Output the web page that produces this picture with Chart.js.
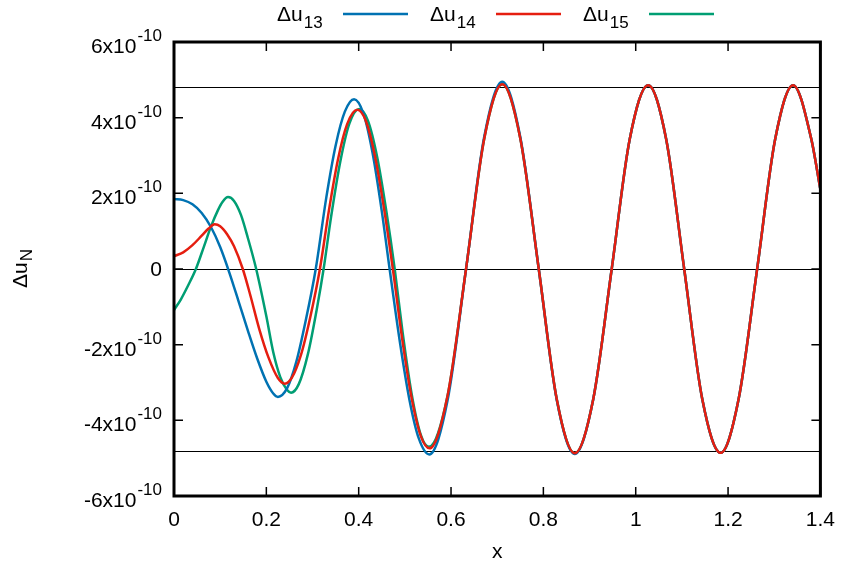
<!DOCTYPE html>
<html>
<head>
<meta charset="utf-8">
<script src="https://cdn.jsdelivr.net/npm/chart.js@4.4.0/dist/chart.umd.min.js"></script>
<style>
    html, body { margin: 0; padding: 0; background: #fff; }
</style>
</head>
<body>
<canvas id="chart" width="847" height="567"></canvas>
<script>
// values, u in units of 1e-10
const x13 = [0, 0.02, 0.04, 0.06, 0.08, 0.10, 0.12, 0.14, 0.16, 0.18, 0.20, 0.215, 0.225, 0.245, 0.265, 0.285, 0.307, 0.33, 0.35, 0.37, 0.39, 0.41, 0.43, 0.45, 0.467, 0.49, 0.51, 0.53, 0.553, 0.5925, 0.6325, 0.672, 0.711, 0.75, 0.79, 0.829, 0.868, 0.908, 0.948, 0.987, 1.027, 1.066, 1.105, 1.144, 1.184, 1.223, 1.263, 1.302, 1.341, 1.38, 1.40];
const u13 = [1.85, 1.82, 1.71, 1.48, 1.11, 0.58, -0.10, -0.86, -1.63, -2.36, -2.98, -3.29, -3.38, -3.15, -2.45, -1.38, 0, 1.9, 3.26, 4.16, 4.49, 4.12, 3.07, 1.53, 0, -1.99, -3.46, -4.47, -4.90, -3.47, 0, 3.50, 4.95, 3.49, 0, -3.46, -4.89, -3.44, 0, 3.43, 4.86, 3.43, 0, -3.43, -4.86, -3.43, 0, 3.43, 4.86, 3.45, 2.1];

const x14 = [0, 0.02, 0.04, 0.06, 0.075, 0.088, 0.10, 0.115, 0.13, 0.149, 0.165, 0.185, 0.205, 0.225, 0.24, 0.255, 0.275, 0.295, 0.316, 0.335, 0.355, 0.375, 0.397, 0.415, 0.435, 0.455, 0.474, 0.495, 0.515, 0.535, 0.5535, 0.5925, 0.6325, 0.672, 0.711, 0.75, 0.79, 0.829, 0.868, 0.908, 0.948, 0.987, 1.027, 1.066, 1.105, 1.144, 1.184, 1.223, 1.263, 1.302, 1.341, 1.38, 1.40];
const u14 = [0.34, 0.44, 0.63, 0.88, 1.07, 1.18, 1.13, 0.92, 0.60, 0, -0.68, -1.6, -2.35, -2.88, -3.03, -2.88, -2.27, -1.28, 0, 1.51, 2.89, 3.83, 4.21, 3.93, 3.0, 1.59, 0, -1.91, -3.43, -4.43, -4.74, -3.35, 0, 3.45, 4.88, 3.45, 0, -3.44, -4.87, -3.44, 0, 3.43, 4.86, 3.43, 0, -3.43, -4.86, -3.43, 0, 3.43, 4.86, 3.45, 2.1];

const x15 = [0, 0.015, 0.03, 0.0474, 0.065, 0.08, 0.095, 0.105, 0.117, 0.13, 0.145, 0.16, 0.178, 0.20, 0.215, 0.23, 0.245, 0.2535, 0.27, 0.29, 0.31, 0.324, 0.34, 0.36, 0.38, 0.401, 0.42, 0.44, 0.46, 0.478, 0.495, 0.515, 0.535, 0.552, 0.5925, 0.6325, 0.672, 0.711, 0.75, 0.79, 0.829, 0.868, 0.908, 0.948, 0.987, 1.027, 1.066, 1.105, 1.144, 1.184, 1.223, 1.263, 1.302, 1.341, 1.38, 1.40];
const u15 = [-1.085, -0.80, -0.45, 0, 0.60, 1.12, 1.55, 1.77, 1.90, 1.80, 1.43, 0.82, 0, -1.25, -2.2, -2.85, -3.2, -3.27, -3.05, -2.25, -1.01, 0, 1.36, 2.83, 3.85, 4.23, 3.92, 2.96, 1.52, 0, -1.66, -3.32, -4.40, -4.70, -3.35, 0, 3.45, 4.88, 3.45, 0, -3.44, -4.87, -3.44, 0, 3.43, 4.86, 3.43, 0, -3.43, -4.86, -3.43, 0, 3.43, 4.86, 3.45, 2.1];

const xTicks = [0, 0.2, 0.4, 0.6, 0.8, 1, 1.2, 1.4];
const yTicks = [-6, -4, -2, 0, 2, 4, 6];
const refLevels = [4.8, 0, -4.8];
const seriesNames = ["13", "14", "15"];
const seriesColors = ["#0072b2", "#e51e10", "#009e73"];

const FONT = "Liberation Sans, Arial, sans-serif";

function toPoints(xs, ys) {
    return xs.map((x, i) => ({ x: x, y: ys[i] }));
}

function makeSet(xs, ys, color) {
    return {
        data: toPoints(xs, ys),
        borderColor: color,
        borderWidth: 2.5,
        pointRadius: 0,
        showLine: true,
        fill: false,
        cubicInterpolationMode: 'monotone'
    };
}

// gnuplot-like decorations: frame, inward ticks, reference lines, labels, legend
const gnuplotLook = {
    id: 'gnuplotLook',
    beforeDatasetsDraw(chart) {
        const { ctx, chartArea: a, scales } = chart;
        ctx.save();
        ctx.strokeStyle = '#000';
        ctx.lineWidth = 1.2;
        refLevels.forEach(v => {
            const py = Math.round(scales.y.getPixelForValue(v)) + 0.5;
            ctx.beginPath();
            ctx.moveTo(a.left, py);
            ctx.lineTo(a.right, py);
            ctx.stroke();
        });
        ctx.restore();
    },
    afterDatasetsDraw(chart) {
        const { ctx, chartArea: a, scales } = chart;
        ctx.save();
        ctx.strokeStyle = '#000';

        // ticks
        ctx.lineWidth = 1.5;
        const tl = 9;
        xTicks.forEach(v => {
            const px = scales.x.getPixelForValue(v);
            ctx.beginPath();
            ctx.moveTo(px, a.bottom); ctx.lineTo(px, a.bottom - tl);
            ctx.moveTo(px, a.top); ctx.lineTo(px, a.top + tl);
            ctx.stroke();
        });
        yTicks.forEach(v => {
            const py = scales.y.getPixelForValue(v);
            ctx.beginPath();
            ctx.moveTo(a.left, py); ctx.lineTo(a.left + tl, py);
            ctx.moveTo(a.right, py); ctx.lineTo(a.right - tl, py);
            ctx.stroke();
        });

        // frame
        ctx.lineWidth = 3;
        ctx.strokeRect(a.left, a.top, a.right - a.left, a.bottom - a.top);

        ctx.fillStyle = '#000';
        ctx.textBaseline = 'alphabetic';

        // y tick labels  Nx10^-10
        const labelRight = a.left - 12;
        yTicks.forEach(v => {
            const py = scales.y.getPixelForValue(v);
            if (v === 0) {
                ctx.font = "21px " + FONT;
                ctx.textAlign = 'right';
                ctx.fillText("0", labelRight, py + 7);
                return;
            }
            ctx.font = "17px " + FONT;
            const sup = "-10";
            const ws = ctx.measureText(sup).width;
            ctx.textAlign = 'left';
            ctx.fillText(sup, labelRight - ws, py - 1);
            ctx.font = "21px " + FONT;
            ctx.textAlign = 'right';
            ctx.fillText(v + "x10", labelRight - ws - 1, py + 11);
        });

        // y title
        ctx.save();
        ctx.translate(27, (a.top + a.bottom) / 2);
        ctx.rotate(-Math.PI / 2);
        ctx.font = "21px " + FONT;
        const wMain = ctx.measureText("\u0394u").width;
        ctx.font = "17px " + FONT;
        const wSub = ctx.measureText("N").width;
        const start = -(wMain + wSub) / 2;
        ctx.textAlign = 'left';
        ctx.font = "21px " + FONT;
        ctx.fillText("\u0394u", start, 0);
        ctx.font = "17px " + FONT;
        ctx.fillText("N", start + wMain + 1, 5);
        ctx.restore();

        // x title
        ctx.font = "21px " + FONT;
        ctx.textAlign = 'center';
        ctx.fillText("x", (a.left + a.right) / 2, 558);

        // legend
        seriesNames.forEach((name, i) => {
            const x0 = 277 + i * 153;
            ctx.textAlign = 'left';
            ctx.font = "21px " + FONT;
            ctx.fillText("\u0394u", x0, 21);
            const w = ctx.measureText("\u0394u").width;
            ctx.font = "17px " + FONT;
            ctx.fillText(name, x0 + w + 1, 28);
            ctx.strokeStyle = seriesColors[i];
            ctx.lineWidth = 2.5;
            ctx.beginPath();
            ctx.moveTo(x0 + 66, 14);
            ctx.lineTo(x0 + 131, 14);
            ctx.stroke();
        });

        ctx.restore();
    }
};

new Chart(document.getElementById("chart"), {
    type: 'scatter',
    data: {
        datasets: [
            makeSet(x14, u14, seriesColors[1]),
            makeSet(x13, u13, seriesColors[0]),
            makeSet(x15, u15, seriesColors[2])
        ]
    },
    options: {
        responsive: false,
        animation: false,
        devicePixelRatio: 1,
        layout: { padding: { top: 42, right: 24, left: 0, bottom: 0 } },
        plugins: {
            legend: { display: false },
            tooltip: { enabled: false }
        },
        scales: {
            x: {
                type: 'linear',
                min: 0,
                max: 1.4,
                afterFit: (s) => { s.height = 71; },
                afterBuildTicks: (s) => { s.ticks = xTicks.map(v => ({ value: v })); },
                grid: { display: false, drawTicks: false },
                border: { display: false },
                ticks: {
                    color: '#000',
                    padding: 12,
                    maxRotation: 0,
                    font: { family: FONT, size: 21 },
                    callback: (v) => String(v)
                }
            },
            y: {
                type: 'linear',
                min: -6,
                max: 6,
                afterFit: (s) => { s.width = 174; },
                grid: { display: false, drawTicks: false },
                border: { display: false },
                ticks: { display: false }
            }
        }
    },
    plugins: [gnuplotLook]
});
</script>
</body>
</html>
